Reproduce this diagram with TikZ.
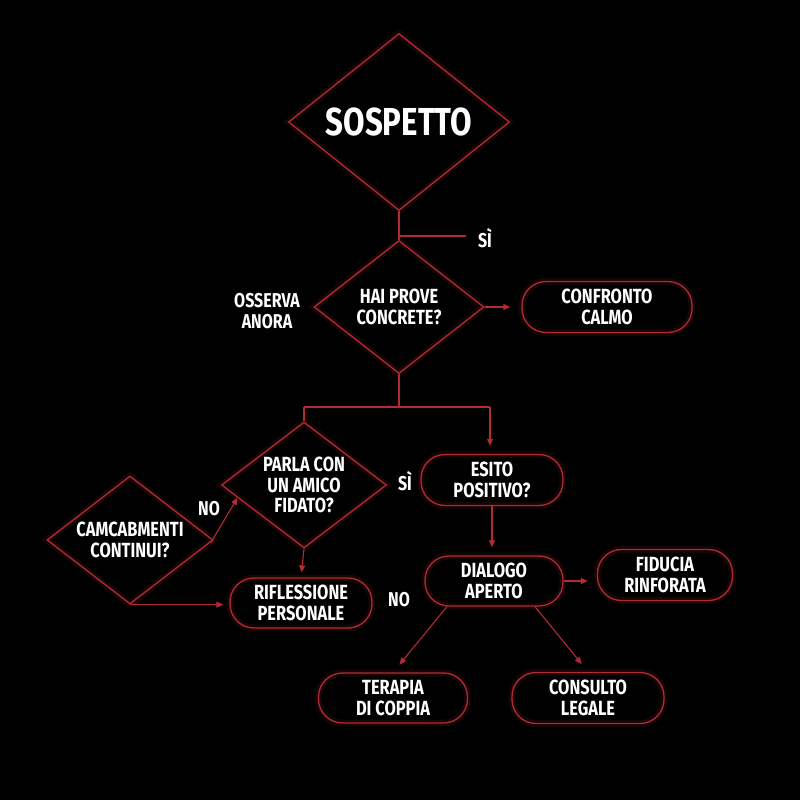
\documentclass[tikz,border=0pt]{standalone}
\usepackage{fontspec}
\setmainfont{Fira Sans}[FakeStretch=0.8]
\usetikzlibrary{shapes.geometric,arrows.meta,calc}
\definecolor{ln}{RGB}{180,42,50}
\begin{document}
\begin{tikzpicture}[x=1pt,y=-1pt,
  every node/.style={text=white,font=\bfseries\fontsize{20.5}{20.5}\selectfont,align=center},
  glow/.style={preaction={draw=ln,line width=7pt,draw opacity=0.12}},
  dia/.style={diamond,draw=ln,line width=1.3pt,inner sep=0pt,glow},
  pill/.style={rectangle,rounded corners=24pt,draw=ln,line width=1.3pt,glow},
  lnk/.style={draw=ln,line width=1.1pt},
  arr/.style={lnk,-{Triangle[length=7pt,width=6pt]}},
  lab/.style={font=\bfseries\fontsize{20}{20.5}\selectfont}]
\fill[black] (0,0) rectangle (800,800);
\useasboundingbox (0,0) rectangle (800,800);

% nodes
\node[dia,minimum width=221pt,minimum height=177pt,font=\bfseries\fontsize{39}{40}\selectfont] (sos) at (399,122) {SOSPETTO};
\node[dia,minimum width=170pt,minimum height=133pt] (hai) at (399,307) {HAI PROVE\\CONCRETE?};
\node[pill,minimum width=170pt,minimum height=51pt] (conf) at (607,307) {CONFRONTO\\CALMO};
\node[dia,aspect=1.3,minimum width=165pt,minimum height=126pt] (parla) at (304,485) {PARLA CON\\UN AMICO\\FIDATO?};
\node[dia,aspect=1.3,minimum width=166pt,minimum height=128pt] (camc) at (130,540) {CAMCABMENTI\\CONTINUI?};
\node[pill,minimum width=142pt,minimum height=50pt] (rifl) at (301,603) {RIFLESSIONE\\PERSONALE};
\node[pill,minimum width=142pt,minimum height=51pt] (esito) at (492,480) {ESITO\\POSITIVO?};
\node[pill,minimum width=138pt,minimum height=50pt] (dial) at (494,581) {DIALOGO\\APERTO};
\node[pill,minimum width=135pt,minimum height=51pt] (fid) at (665,575) {FIDUCIA\\RINFORATA};
\node[pill,minimum width=149pt,minimum height=50pt] (terap) at (393,698) {TERAPIA\\DI COPPIA};
\node[pill,minimum width=152pt,minimum height=51pt] (cons) at (588,698) {CONSULTO\\LEGALE};

% labels
\node[lab] (si1) at (485,238) {SÌ};
\node[lab] (oss) at (267,311) {OSSERVA\\ANORA};
\node[lab] (no1) at (209,509) {NO};
\node[lab] (si2) at (405,481) {SÌ};
\node[lab] (no2) at (399,600) {NO};

% junction coordinates
\coordinate (j1) at (399,236);
\coordinate (j1e) at (466,236);
\coordinate (j2) at (399,407);
\coordinate (jl) at (304,407);
\coordinate (jr) at (490,407);

% connectors
\draw[lnk] (sos.south) -- (hai.north);
\draw[lnk] (j1) -- (j1e);
\draw[arr,shorten >=11pt] (hai.east) -- (conf.west);
\draw[lnk] (hai.south) -- (j2);
\draw[lnk] (jl) -- (jr);
\draw[lnk] (jl) -- (parla.north);
\draw[arr,shorten >=8pt] (jr) -- (jr |- esito.north);
\draw[arr,shorten >=5pt] (parla.south) -- (rifl.north);
\draw[arr] ([shift={(-3pt,-3pt)}]camc.east) -- ($(parla.west)!0.2!(parla.south)$);
\draw[arr,shorten >=6pt] (camc.south) -- (camc.south -| rifl.west);
\draw[arr,shorten >=8pt] (esito.south) -- (esito.south |- dial.north);
\draw[arr,shorten >=9pt] (dial.east) -- (dial.east -| fid.west);
\draw[arr,shorten >=10pt] ([xshift=-47pt]dial.south) -- (terap.north);
\draw[arr,shorten >=10pt] ([xshift=41pt]dial.south) -- (cons.north);
\end{tikzpicture}
\end{document}
